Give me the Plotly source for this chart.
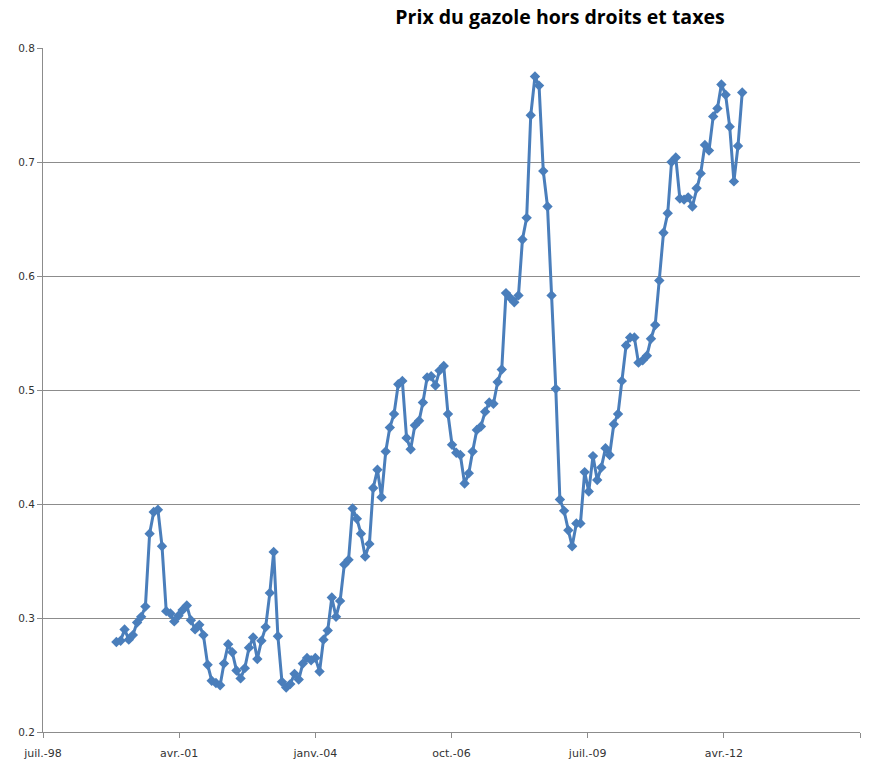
import datetime as dt
import plotly.graph_objects as go

# Monthly diesel price excluding duties and taxes (EUR/litre), Jan 2000 - Aug 2012
start_year, start_month = 2000, 1
prices = [
    0.279, 0.280, 0.290, 0.281, 0.285, 0.296, 0.301, 0.310, 0.374, 0.393,
    0.395, 0.363, 0.306, 0.304, 0.297, 0.302, 0.307, 0.311, 0.298, 0.290,
    0.294, 0.285, 0.259, 0.245, 0.243, 0.241, 0.260, 0.277, 0.270, 0.254,
    0.247, 0.256, 0.274, 0.283, 0.264, 0.280, 0.292, 0.322, 0.358, 0.284,
    0.244, 0.239, 0.242, 0.251, 0.246, 0.260, 0.265, 0.263, 0.265, 0.253,
    0.281, 0.289, 0.318, 0.301, 0.315, 0.347, 0.351, 0.396, 0.387, 0.374,
    0.354, 0.365, 0.414, 0.430, 0.406, 0.446, 0.467, 0.479, 0.505, 0.508,
    0.458, 0.448, 0.469, 0.473, 0.489, 0.511, 0.512, 0.504, 0.517, 0.521,
    0.479, 0.452, 0.445, 0.443, 0.418, 0.427, 0.446, 0.465, 0.468, 0.481,
    0.489, 0.488, 0.507, 0.518, 0.585, 0.581, 0.577, 0.583, 0.632, 0.651,
    0.741, 0.775, 0.767, 0.692, 0.661, 0.583, 0.501, 0.404, 0.394, 0.377,
    0.363, 0.383, 0.383, 0.428, 0.411, 0.442, 0.421, 0.432, 0.449, 0.443,
    0.470, 0.479, 0.508, 0.539, 0.546, 0.546, 0.524, 0.526, 0.530, 0.545,
    0.557, 0.596, 0.638, 0.655, 0.700, 0.704, 0.668, 0.667, 0.669, 0.661,
    0.677, 0.690, 0.715, 0.710, 0.740, 0.747, 0.768, 0.759, 0.731, 0.683,
    0.714, 0.761,
]

dates = []
for i in range(len(prices)):
    m = start_month - 1 + i
    dates.append(dt.date(start_year + m // 12, m % 12 + 1, 15))

# Date axis: ticks every 1000 days
axis_start = dt.date(1998, 7, 25)
tick_dates = [axis_start + dt.timedelta(days=1000 * k) for k in range(7)]
tick_labels = ["juil.-98", "avr.-01", "janv.-04", "oct.-06", "juil.-09", "avr.-12", "déc.-14"]

line_color = "#4A7EBB"
grid_color = "#8C8C8C"

fig = go.Figure()
fig.add_trace(go.Scatter(
    x=dates, y=prices, mode="lines+markers",
    line=dict(color=line_color, width=3),
    marker=dict(symbol="diamond", size=8, color=line_color),
    showlegend=False,
))

fig.update_layout(
    width=875, height=763,
    margin=dict(l=43, r=15, t=48, b=31),
    paper_bgcolor="white", plot_bgcolor="white",
    title=dict(
        text="<b>Prix du gazole hors droits et taxes</b>",
        x=0.64, xanchor="center", y=0.978, yanchor="middle",
        font=dict(family="Open Sans, Lato, sans-serif", size=19.5, color="#000000"),
    ),
    font=dict(family="DejaVu Sans, Verdana, sans-serif", size=11, color="#333333"),
)

fig.update_xaxes(
    type="date", automargin=False,
    range=[tick_dates[0], tick_dates[-1]],
    tickmode="array", tickvals=tick_dates, ticktext=tick_labels,
    showgrid=False, zeroline=False,
    showline=True, linecolor=grid_color, linewidth=1,
    ticks="outside", ticklen=5, tickcolor=grid_color,
    ticklabelstandoff=6,
    tickfont=dict(size=11, color="#333333"),
)
fig.update_yaxes(
    automargin=False,
    range=[0.2, 0.8], dtick=0.1, tick0=0.2, tickformat=".1f",
    showgrid=True, gridcolor=grid_color, gridwidth=1,
    zeroline=False,
    showline=True, linecolor=grid_color, linewidth=1,
    ticks="outside", ticklen=5, tickcolor=grid_color,
    tickfont=dict(size=10.5, color="#333333"),
)

fig.write_html("out.html")
